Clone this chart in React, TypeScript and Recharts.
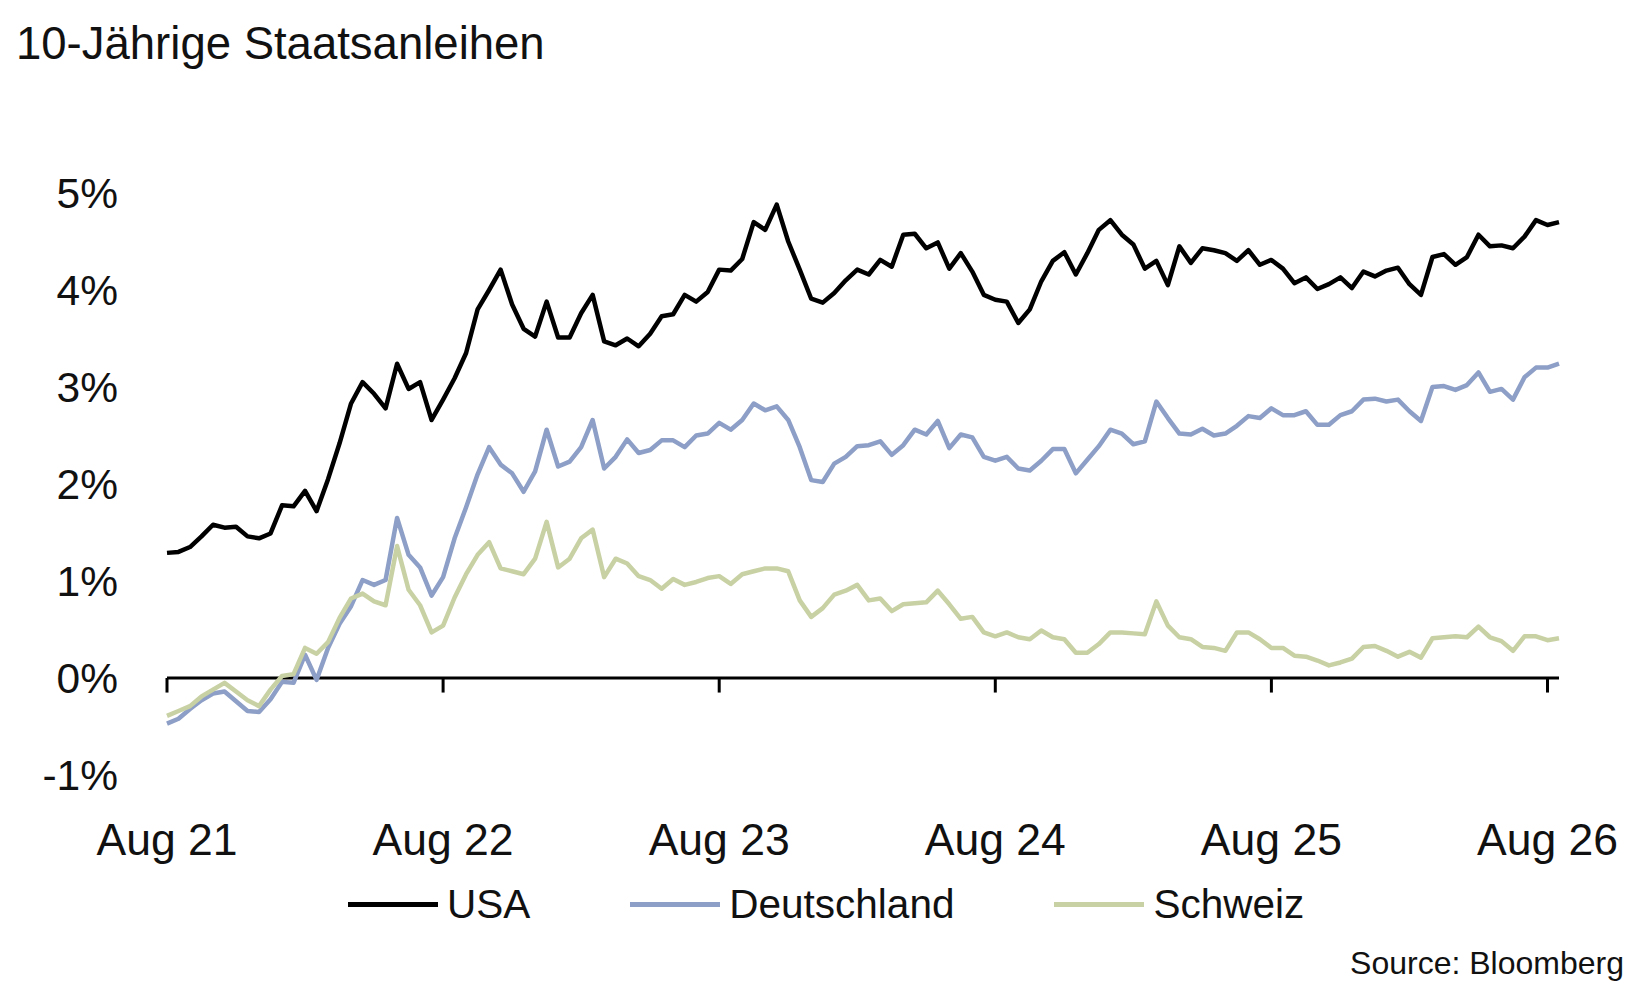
import { LineChart, Line, XAxis, YAxis, ReferenceLine } from "recharts";

const FONT = "'Liberation Sans', Arial, sans-serif";

// half-monthly readings, Aug 21 -> end of the series
const usa = [
  1.29, 1.3, 1.35, 1.46, 1.58, 1.55, 1.56, 1.46, 1.44, 1.49, 1.78, 1.77, 1.93, 1.72, 2.05, 2.42,
  2.83, 3.05, 2.93, 2.78, 3.24, 2.98, 3.05, 2.66, 2.87, 3.09, 3.35, 3.8, 4.0, 4.21, 3.85, 3.6,
  3.52, 3.88, 3.51, 3.51, 3.76, 3.95, 3.47, 3.43, 3.5, 3.42, 3.55, 3.73, 3.75, 3.95, 3.88, 3.98,
  4.21, 4.2, 4.32, 4.7, 4.62, 4.88, 4.5, 4.21, 3.91, 3.87, 3.97, 4.1, 4.21, 4.16, 4.31, 4.24,
  4.57, 4.58, 4.43, 4.49, 4.22, 4.38, 4.19, 3.95, 3.9, 3.88, 3.66, 3.8, 4.09, 4.3, 4.39, 4.16,
  4.38, 4.62, 4.72, 4.57, 4.47, 4.22, 4.3, 4.05, 4.45, 4.28, 4.43, 4.41, 4.38, 4.3, 4.41, 4.26,
  4.31, 4.22, 4.07, 4.13, 4.01, 4.06, 4.13, 4.02, 4.19, 4.14, 4.2, 4.23, 4.06, 3.95, 4.34, 4.37,
  4.26, 4.34, 4.57, 4.45, 4.46, 4.43, 4.55, 4.72, 4.67, 4.7,
];

const deutschland = [
  -0.47, -0.42, -0.32, -0.23, -0.16, -0.14, -0.24, -0.34, -0.35, -0.22, -0.04, -0.05, 0.24, -0.02, 0.31, 0.56,
  0.74, 1.01, 0.96, 1.01, 1.65, 1.27, 1.14, 0.85, 1.04, 1.44, 1.76, 2.1, 2.38, 2.2, 2.11, 1.92,
  2.13, 2.56, 2.18, 2.23, 2.38, 2.66, 2.16, 2.28, 2.46, 2.32, 2.35, 2.45, 2.45, 2.38, 2.5, 2.52,
  2.63, 2.56, 2.66, 2.83, 2.76, 2.8, 2.66, 2.38, 2.04, 2.02, 2.21, 2.28, 2.39, 2.4, 2.44, 2.3,
  2.4, 2.56, 2.51, 2.65, 2.37, 2.51, 2.48, 2.28, 2.24, 2.28, 2.16, 2.14, 2.24, 2.36, 2.36, 2.11,
  2.25, 2.39, 2.56, 2.52, 2.41, 2.44, 2.85, 2.68, 2.52, 2.51, 2.57, 2.5, 2.52, 2.6, 2.7, 2.68,
  2.78, 2.71, 2.71, 2.75, 2.61, 2.61, 2.71, 2.75, 2.87, 2.88, 2.85, 2.87, 2.75, 2.65, 3.0, 3.01,
  2.97, 3.02, 3.15, 2.95, 2.98, 2.87, 3.1, 3.2, 3.2, 3.24,
];

const schweiz = [
  -0.39, -0.34, -0.29, -0.19, -0.12, -0.05, -0.14, -0.23, -0.29, -0.12, 0.02, 0.04, 0.31, 0.25, 0.37, 0.62,
  0.82, 0.87, 0.79, 0.75, 1.36, 0.91, 0.75, 0.47, 0.54, 0.83, 1.07, 1.27, 1.4, 1.13, 1.1, 1.07,
  1.23, 1.61, 1.14, 1.23, 1.44, 1.53, 1.04, 1.23, 1.18, 1.05, 1.01, 0.92, 1.02, 0.96, 0.99, 1.03,
  1.05, 0.97, 1.07, 1.1, 1.13, 1.13, 1.1, 0.8, 0.63, 0.72, 0.86, 0.9, 0.96, 0.8, 0.82, 0.69,
  0.76, 0.77, 0.78, 0.9, 0.76, 0.61, 0.63, 0.47, 0.43, 0.47, 0.42, 0.4, 0.49, 0.42, 0.4, 0.26,
  0.26, 0.35, 0.47, 0.47, 0.46, 0.45, 0.79, 0.54, 0.42, 0.4, 0.32, 0.31, 0.28, 0.47, 0.47, 0.4,
  0.31, 0.31, 0.23, 0.22, 0.18, 0.13, 0.16, 0.2, 0.32, 0.33, 0.28, 0.22, 0.27, 0.21, 0.41, 0.42,
  0.43, 0.42, 0.53, 0.42, 0.38, 0.28, 0.43, 0.43, 0.39, 0.41,
];

const tickLabels = ["Aug 21", "Aug 22", "Aug 23", "Aug 24", "Aug 25", "Aug 26"];
const yTicks = [-1, 0, 1, 2, 3, 4, 5];

const series = [
  { key: "de", name: "Deutschland", color: "#8d9fc6" },
  { key: "ch", name: "Schweiz", color: "#c8d1a3" },
  { key: "usa", name: "USA", color: "#000000" },
];
const legendOrder = ["usa", "de", "ch"];

const data = usa.map((v, i) => ({ t: i, usa: v, de: deutschland[i], ch: schweiz[i] }));
const xTicks = tickLabels.map((_, i) => i * 24);

export default function App() {
  return (
    <div style={{ position: "absolute", left: 0, top: 0, width: 1639, height: 991, background: "#fff", fontFamily: FONT, color: "#111" }}>
      <div style={{ position: "absolute", left: 16, top: 18, fontSize: 45.5, whiteSpace: "nowrap" }}>
        10-Jährige Staatsanleihen
      </div>

      <LineChart width={1639} height={991} data={data} margin={{ top: 193, right: 80, bottom: 156, left: 0 }}>
        <XAxis
          type="number"
          dataKey="t"
          domain={[0, 121]}
          ticks={xTicks}
          interval={0}
          tickFormatter={(v) => tickLabels[Math.round(v / 24)]}
          axisLine={false}
          tickLine={false}
          tickSize={0}
          tickMargin={48}
          height={60}
          tick={{ fontSize: 44.5, fill: "#111", fontFamily: FONT }}
        />
        <YAxis
          domain={[-1, 5]}
          ticks={yTicks}
          interval={0}
          tickFormatter={(v) => `${v}%`}
          axisLine={false}
          tickLine={false}
          tickSize={0}
          tickMargin={49}
          width={167}
          tick={{ fontSize: 42.5, fill: "#111", fontFamily: FONT }}
        />
        <ReferenceLine y={0} stroke="#000" strokeWidth={3} />
        {xTicks.map((t) => (
          <ReferenceLine
            key={t}
            segment={[
              { x: t, y: 0 },
              { x: t, y: -0.15 },
            ]}
            stroke="#000"
            strokeWidth={3}
          />
        ))}
        {series.map((s) => (
          <Line
            key={s.key}
            type="linear"
            dataKey={s.key}
            name={s.name}
            stroke={s.color}
            strokeWidth={4.5}
            strokeLinejoin="round"
            dot={false}
            activeDot={false}
            isAnimationActive={false}
          />
        ))}
      </LineChart>

      <div style={{ position: "absolute", left: 348, top: 880, height: 48, display: "flex", alignItems: "center", fontSize: 40.5 }}>
        {legendOrder.map((k) => {
          const s = series.find((x) => x.key === k)!;
          return (
            <div key={k} style={{ display: "flex", alignItems: "center", marginRight: 100 }}>
              <div style={{ width: 90, height: 5, background: s.color, marginRight: 9 }} />
              <span>{s.name}</span>
            </div>
          );
        })}
      </div>

      <div style={{ position: "absolute", right: 15, top: 945, fontSize: 32, whiteSpace: "nowrap" }}>
        Source: Bloomberg
      </div>
    </div>
  );
}
